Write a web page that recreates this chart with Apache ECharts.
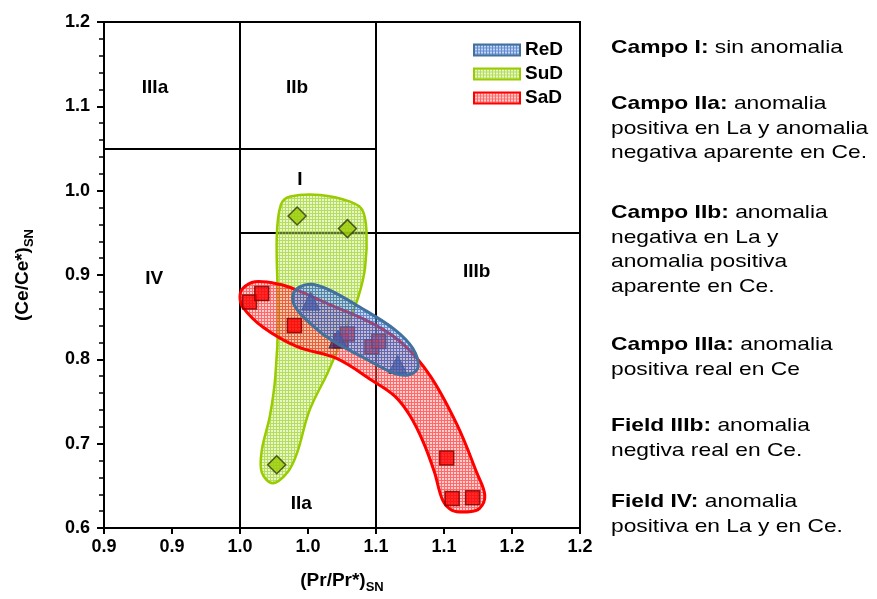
<!DOCTYPE html>
<html>
<head>
<meta charset="utf-8">
<script src="https://cdn.jsdelivr.net/npm/echarts@6/dist/echarts.min.js"></script>
<style>html,body{margin:0;padding:0;background:#fff}#c{width:877px;height:599px}</style>
</head>
<body>
<div id="c"></div>
<script>
// ---------- data ----------
const xTickLabels = ['0.9','0.9','1.0','1.0','1.1','1.1','1.2','1.2'];
const yTickLabels = ['0.6','0.7','0.8','0.9','1.0','1.1','1.2'];

// (Pr/Pr*)SN, (Ce/Ce*)SN
const reD = [[1.002,0.869],[1.022,0.824],[1.066,0.794]];
const suD = [[0.992,0.970],[1.029,0.955],[0.977,0.675]];
const saD = [[0.957,0.868],[0.966,0.878],[0.990,0.840],[1.024,0.822],[1.029,0.830],
             [1.047,0.815],[1.052,0.821],[1.102,0.683],[1.106,0.635],[1.121,0.636]];

// envelopes (data units)
const reDEnvelope = [[0.989,0.877],[0.994,0.886],[1.003,0.889],[1.016,0.882],[1.038,0.862],[1.064,0.835],
  [1.077,0.813],[1.081,0.791],[1.075,0.782],[1.064,0.783],[1.042,0.801],[1.016,0.824],[0.998,0.848],[0.990,0.864]];
const suDEnvelope = [[0.980,0.983],[0.987,0.993],[1.009,0.995],[1.031,0.987],[1.040,0.977],[1.043,0.952],
  [1.042,0.909],[1.037,0.874],[1.027,0.832],[1.015,0.786],[1.001,0.739],[0.992,0.689],[0.985,0.666],
  [0.974,0.653],[0.966,0.666],[0.966,0.692],[0.972,0.733],[0.976,0.780],[0.978,0.850],[0.977,0.944]];
const saDEnvelope = [[0.950,0.874],[0.952,0.884],[0.961,0.892],[0.979,0.889],[0.992,0.882],[1.016,0.865],
  [1.048,0.842],[1.070,0.818],[1.090,0.780],[1.110,0.721],[1.124,0.666],[1.130,0.639],[1.126,0.623],
  [1.117,0.619],[1.106,0.621],[1.099,0.633],[1.093,0.666],[1.085,0.701],[1.075,0.733],[1.064,0.756],
  [1.048,0.774],[1.021,0.801],[0.992,0.815],[0.967,0.838],[0.952,0.862]];

// field boundaries
const fieldLines = [
  [[0.95,0.6],[0.95,1.2]],
  [[1.05,0.6],[1.05,1.2]],
  [[0.85,1.05],[1.05,1.05]],
  [[0.95,0.95],[1.20,0.95]]
];
const fieldLabels = [
  ['IIIa',0.8875,1.122],['IIb',0.992,1.122],['I',0.994,1.013],
  ['IV',0.887,0.896],['IIIb',1.124,0.904],['IIa',0.995,0.629]
];

const notes = [
  ['Campo I:', [' sin anomalia']],
  ['Campo IIa:', [' anomalia','positiva en La y anomalia','negativa aparente en Ce.']],
  ['Campo IIb:', [' anomalia','negativa en La y','anomalia positiva','aparente en Ce.']],
  ['Campo IIIa:', [' anomalia','positiva real en Ce']],
  ['Field IIIb:', [' anomalia','negtiva real en Ce.']],
  ['Field IV:', [' anomalia','positiva en La y en Ce.']]
];

// ---------- rendering ----------
const FONT = '"Liberation Sans", Arial, sans-serif';

function makePattern(bg, line, size) {
  const c = document.createElement('canvas');
  c.width = size; c.height = size;
  const ctx = c.getContext('2d');
  ctx.fillStyle = bg; ctx.fillRect(0, 0, size, size);
  ctx.fillStyle = line; ctx.fillRect(0, 0, size, 1); ctx.fillRect(0, 1, 1, size - 1);
  return { image: c, repeat: 'repeat' };
}
const redPat = makePattern('rgba(255,130,130,0.38)', 'rgba(255,20,20,0.55)', 3);
const greenPat = makePattern('rgba(205,235,140,0.45)', 'rgba(150,205,20,0.6)', 3);
const bluePat = makePattern('rgba(110,160,225,0.42)', 'rgba(40,90,190,0.62)', 3);

function envelopeSeries(name, pts, pat, stroke, lw, z) {
  return {
    name: name, type: 'custom', z: z,
    itemStyle: { color: pat, borderColor: stroke, borderWidth: 2 },
    encode: { x: 0, y: 1 },
    data: [pts[0]],
    renderItem: function (params, api) {
      return {
        type: 'polygon',
        shape: { points: pts.map(p => api.coord(p)), smooth: 0.35 },
        style: { fill: pat, stroke: stroke, lineWidth: lw }
      };
    }
  };
}

const chart = echarts.init(document.getElementById('c'), null, { renderer: 'canvas' });

const noteTops = [36, 92, 201, 333, 414, 490];
const graphics = notes.map((n, i) => {
  const lines = n[1];
  let txt = '{b|' + n[0] + '}{r|' + lines[0] + '}';
  for (let k = 1; k < lines.length; k++) txt += '\n{r|' + lines[k] + '}';
  return {
    type: 'text', left: 611, top: noteTops[i], scaleX: 1.2,
    style: {
      text: txt, fill: '#000', fontFamily: FONT, fontSize: 19, lineHeight: 24.5,
      rich: {
        b: { fontFamily: FONT, fontSize: 19, fontWeight: 'bold', lineHeight: 24.5, fill: '#000' },
        r: { fontFamily: FONT, fontSize: 19, lineHeight: 24.5, fill: '#000' }
      }
    }
  };
});

const option = {
  animation: false,
  backgroundColor: '#fff',
  grid: { left: 104, right: 297, top: 22, bottom: 66, show: true, borderColor: '#000', borderWidth: 2, backgroundColor: 'transparent' },
  legend: {
    data: ['ReD', 'SuD', 'SaD'], orient: 'vertical', left: 468, top: 35,
    icon: 'rect', itemWidth: 46, itemHeight: 11, itemGap: 4,
    textStyle: { fontFamily: FONT, fontSize: 19, fontWeight: 'bold', color: '#000', lineHeight: 20 }
  },
  xAxis: {
    type: 'value', min: 0.85, max: 1.2, interval: 0.05,
    name: '{a|(Pr/Pr*)}{s|SN}', nameLocation: 'middle', nameGap: 40,
    nameTextStyle: {
      rich: {
        a: { fontFamily: FONT, fontSize: 19, fontWeight: 'bold', color: '#000', lineHeight: 26 },
        s: { fontFamily: FONT, fontSize: 13, fontWeight: 'bold', color: '#000', verticalAlign: 'bottom', lineHeight: 14 }
      }
    },
    axisLine: { lineStyle: { color: '#000', width: 2 } },
    axisTick: { length: 6, lineStyle: { color: '#000', width: 2 } },
    splitLine: { show: false },
    axisLabel: {
      margin: 10, color: '#000', fontFamily: FONT, fontSize: 18, fontWeight: 'bold',
      formatter: v => xTickLabels[Math.round((v - 0.85) / 0.05)]
    }
  },
  yAxis: {
    type: 'value', min: 0.6, max: 1.2, interval: 0.1,
    name: '{a|(Ce/Ce*)}{s|SN}', nameLocation: 'middle', nameGap: 68,
    nameTextStyle: {
      rich: {
        a: { fontFamily: FONT, fontSize: 19, fontWeight: 'bold', color: '#000', lineHeight: 26 },
        s: { fontFamily: FONT, fontSize: 13, fontWeight: 'bold', color: '#000', verticalAlign: 'bottom', lineHeight: 14 }
      }
    },
    axisLine: { lineStyle: { color: '#000', width: 2 } },
    axisTick: { length: 7, lineStyle: { color: '#000', width: 2 } },
    minorTick: { show: true, splitNumber: 5, length: 5, lineStyle: { color: '#000', width: 1.5 } },
    splitLine: { show: false },
    axisLabel: {
      margin: 14, color: '#000', fontFamily: FONT, fontSize: 18, fontWeight: 'bold',
      formatter: v => yTickLabels[Math.round((v - 0.6) / 0.1)]
    }
  },
  graphic: graphics,
  series: [
    {
      name: 'fields', type: 'lines', coordinateSystem: 'cartesian2d', z: 1, silent: true,
      lineStyle: { color: '#000', width: 2, opacity: 1 },
      data: fieldLines.map(c => ({ coords: c }))
    },
    {
      name: 'fieldLabels', type: 'scatter', z: 1, symbolSize: 1, silent: true,
      itemStyle: { color: '#ffffff', opacity: 1 },
      label: {
        show: true, position: 'inside', formatter: p => p.name, color: '#000', opacity: 1,
        textBorderWidth: 0, fontFamily: FONT, fontSize: 19, fontWeight: 'bold'
      },
      data: fieldLabels.map(f => ({ name: f[0], value: [f[1], f[2]] }))
    },
    envelopeSeries('SuD', suDEnvelope, greenPat, '#99cc00', 2.5, 2),
    {
      name: 'SuD pts', type: 'scatter', z: 3, symbol: 'diamond', symbolSize: 18,
      itemStyle: { color: '#99cc00', borderColor: '#2f3a10', borderWidth: 1.5 },
      data: suD
    },
    envelopeSeries('SaD', saDEnvelope, redPat, '#ff0000', 3, 4),
    {
      name: 'SaD pts', type: 'scatter', z: 5, symbol: 'rect', symbolSize: 14,
      itemStyle: { color: '#ff0000', borderColor: '#7a0000', borderWidth: 1.5 },
      data: saD
    },
    {
      name: 'ReD pts', type: 'scatter', z: 5, symbol: 'triangle', symbolSize: 18,
      itemStyle: { color: '#4e2a66', borderColor: '#2e2045', borderWidth: 1 },
      data: reD
    },
    envelopeSeries('ReD', reDEnvelope, bluePat, '#41719c', 3, 6)
  ]
};
chart.setOption(option);
</script>
</body>
</html>
